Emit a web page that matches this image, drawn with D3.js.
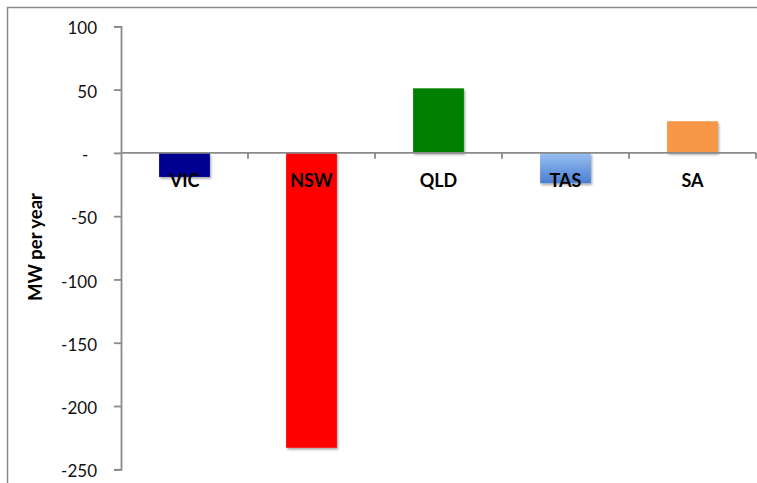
<!DOCTYPE html>
<html>
<head>
<meta charset="utf-8">
<script src="https://cdn.jsdelivr.net/npm/d3@7"></script>
<style>
  html, body { margin: 0; padding: 0; background: #fff; }
  svg { display: block; }
  text { font-family: Lato, "Liberation Sans", sans-serif; }
</style>
</head>
<body>
<svg id="chart" width="757" height="483"></svg>
<script>
// Annual change in capacity by state (MW per year)
const states = ["VIC", "NSW", "QLD", "TAS", "SA"];
const mwPerYear = [-19, -233, 51, -24, 25];
const yTicks = [100, 50, 0, -50, -100, -150, -200, -250];

const barColors = {
  VIC: "#000090",
  NSW: "#ff0000",
  QLD: "#008000",
  TAS: "url(#tasGrad)",
  SA: "#f79646"
};

const svg = d3.select("#chart");
const W = 757, H = 483;

const defs = svg.append("defs");
const grad = defs.append("linearGradient")
  .attr("id", "tasGrad").attr("x1", 0).attr("y1", 0).attr("x2", 0).attr("y2", 1);
grad.append("stop").attr("offset", "0%").attr("stop-color", "#98bff2");
grad.append("stop").attr("offset", "100%").attr("stop-color", "#4a7fd0");

const shadow = defs.append("filter").attr("id", "barShadow")
  .attr("x", "-20%").attr("y", "-20%").attr("width", "140%").attr("height", "140%");
shadow.append("feDropShadow")
  .attr("dx", 1.2).attr("dy", 1.8).attr("stdDeviation", 1.2)
  .attr("flood-color", "#000").attr("flood-opacity", 0.35);

// outer frame (left and top edges visible)
svg.append("path")
  .attr("d", `M7.5,${H} V7.5 H${W}`)
  .attr("fill", "none").attr("stroke", "#8a8a8a").attr("stroke-width", 1.5);

const x0 = 121, x1 = 756;
const y = d3.scaleLinear().domain([-250, 100]).range([469.3, 26.3]);
const x = d3.scaleBand().domain(states).range([x0, x1])
  .paddingInner(0.6).paddingOuter(0.3);

// bars
svg.append("g").selectAll("rect")
  .data(states.map((s, i) => ({ s, v: mwPerYear[i] })))
  .join("rect")
  .attr("x", d => x(d.s))
  .attr("width", x.bandwidth())
  .attr("y", d => y(Math.max(0, d.v)))
  .attr("height", d => Math.abs(y(d.v) - y(0)))
  .attr("fill", d => barColors[d.s])
  .attr("filter", "url(#barShadow)");

// y axis (zero shown as a dash, negatives with a plain hyphen)
const yAxis = d3.axisLeft(y)
  .tickValues(yTicks)
  .tickSize(7)
  .tickPadding(17)
  .tickFormat(d => d === 0 ? "-  " : String(d));
const gy = svg.append("g").attr("transform", `translate(${x0},0)`).call(yAxis);
gy.select(".domain").attr("stroke", "#8a8a8a").attr("stroke-width", 1.8);
gy.selectAll(".tick line").attr("stroke", "#8a8a8a").attr("stroke-width", 1.8);
gy.selectAll(".tick text")
  .attr("font-size", 17).attr("fill", "#111")
  .attr("dy", "0.45em")
  .style("white-space", "pre")
  .attr("xml:space", "preserve");

// category axis along zero
const step = x.step();
const bounds = d3.range(states.length + 1).map(i => x0 + i * step);
const gx = svg.append("g");
gx.append("line")
  .attr("x1", x0).attr("x2", x1).attr("y1", y(0)).attr("y2", y(0))
  .attr("stroke", "#8a8a8a").attr("stroke-width", 1.8);
gx.selectAll("line.tk").data(bounds.slice(1)).join("line").attr("class", "tk")
  .attr("x1", d => d).attr("x2", d => d)
  .attr("y1", y(0)).attr("y2", y(0) + 6)
  .attr("stroke", "#8a8a8a").attr("stroke-width", 1.8);
gx.selectAll("text").data(states).join("text")
  .attr("x", d => x(d) + x.bandwidth() / 2)
  .attr("y", y(0) + 34)
  .attr("text-anchor", "middle")
  .attr("font-size", 18).attr("font-weight", "bold").attr("fill", "#000")
  .text(d => d);

// axis title
svg.append("text")
  .attr("transform", "translate(42,247) rotate(-90)")
  .attr("text-anchor", "middle")
  .attr("font-size", 18.5).attr("font-weight", "bold").attr("fill", "#000")
  .text("MW per year");
</script>
</body>
</html>
